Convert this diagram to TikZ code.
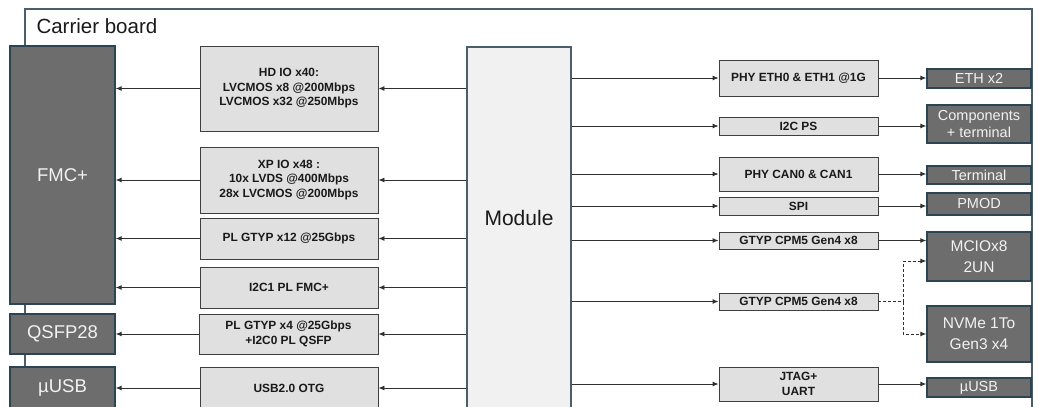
\documentclass[tikz,border=0pt]{standalone}
\usepackage{fontspec}
\setmainfont{Liberation Sans}
\usepackage{tikz}
\usetikzlibrary{arrows.meta,calc}
\definecolor{boardline}{HTML}{4A5E6B}
\definecolor{portbg}{HTML}{6D6D6D}
\definecolor{portline}{HTML}{2D4452}
\definecolor{porttext}{HTML}{F2F2F2}
\definecolor{ifbg}{HTML}{E0E0E0}
\definecolor{ifline}{HTML}{3F3F3F}
\definecolor{modbg}{HTML}{F1F1F1}
\definecolor{wireline}{HTML}{303030}
\tikzset{
  portbox/.style={draw=portline, fill=portbg, line width=1.3pt, text=porttext, align=center, inner sep=0pt, font=\fontsize{18.5}{20}\selectfont},
  portsmall/.style={portbox, font=\fontsize{14.5}{17}\selectfont},
  ifbox/.style={draw=ifline, fill=ifbg, line width=0.9pt, align=center, inner sep=0pt, text=black!90, font=\bfseries\fontsize{11.9}{14.5}\selectfont},
  modbox/.style={draw=boardline, fill=modbg, line width=2pt, inner sep=0pt},
  boardframe/.style={draw=boardline, line width=1.5pt},
  wire/.style={-{Latex[length=6pt,width=5pt]}, line width=0.9pt, draw=wireline},
  dashwire/.style={wire, dash pattern=on 3pt off 2pt}
}

\begin{document}
\begin{tikzpicture}[x=1pt,y=-1pt]
  \useasboundingbox (0,0) rectangle (1039,407);
  \clip (0,0) rectangle (1039,407);

  % carrier board
  \draw[boardframe] (25,430) |- (1032,9) -- (1032,430);
  \node[anchor=west, font=\fontsize{20.5}{22}\selectfont, text=black!90] (boardlbl) at (33,26.5) {Carrier board};

  % connectors, left side
  \node[portbox, minimum width=105, minimum height=258] (fmc)  at (62.5,175) {FMC+};
  \node[portbox, minimum width=105, minimum height=40]  (qsfp) at (62.5,334) {QSFP28};
  \node[portbox, minimum width=105, minimum height=41]  (usbl) at (62.5,387.5) {µUSB};

  % interfaces, left side
  \node[ifbox, minimum width=178, minimum height=85] (hdio)   at (289,88.5)  {HD IO x40:\\LVCMOS x8 @200Mbps\\LVCMOS x32 @250Mbps};
  \node[ifbox, minimum width=178, minimum height=66] (xpio)   at (289,180)   {XP IO x48 :\\10x LVDS @400Mbps\\28x LVCMOS @200Mbps};
  \node[ifbox, minimum width=178, minimum height=41] (gtyptw) at (289,238.5) {PL GTYP x12 @25Gbps};
  \node[ifbox, minimum width=178, minimum height=41] (i2cfmc) at (289,287.5) {I2C1 PL FMC+};
  \node[ifbox, minimum width=179, minimum height=40] (gtypfr) at (288.5,334) {PL GTYP x4 @25Gbps\\+I2C0 PL QSFP};
  \node[ifbox, minimum width=178, minimum height=42] (usbotg) at (289,388)   {USB2.0 OTG};

  % module
  \node[modbox, minimum width=104, minimum height=383,
        label={[font=\fontsize{21}{23}\selectfont, text=black!90, yshift=20.5pt]center:Module}] (modl) at (519,238.5) {};

  % interfaces, right side
  \node[ifbox, minimum width=159, minimum height=36] (phyeth) at (798.5,78)   {PHY ETH0 \& ETH1 @1G};
  \node[ifbox, minimum width=159, minimum height=18] (i2cps)  at (798.5,126)  {I2C PS};
  \node[ifbox, minimum width=159, minimum height=34] (phycan) at (798.5,174)  {PHY CAN0 \& CAN1};
  \node[ifbox, minimum width=159, minimum height=18] (spi)    at (798.5,206)  {SPI};
  \node[ifbox, minimum width=159, minimum height=17] (gtypa)  at (798.5,240.5) {GTYP CPM5 Gen4 x8};
  \node[ifbox, minimum width=159, minimum height=17] (gtypb)  at (798.5,301.5) {GTYP CPM5 Gen4 x8};
  \node[ifbox, minimum width=159, minimum height=34] (jtag)   at (798.5,384)  {JTAG+\\UART};

  % connectors, right side
  \node[portsmall, minimum width=104, minimum height=19] (eth)   at (979,78.5)  {ETH x2};
  \node[portsmall, minimum width=104, minimum height=38] (comp)  at (979,124)   {Components\\+ terminal};
  \node[portsmall, minimum width=104, minimum height=18] (term)  at (979,175)   {Terminal};
  \node[portsmall, minimum width=104, minimum height=22] (pmod)  at (979,204)   {PMOD};
  \node[portsmall, minimum width=104, minimum height=49, font=\fontsize{15.5}{21}\selectfont] (mcio)  at (979,256.5) {MCIOx8\\2UN};
  \node[portsmall, minimum width=104, minimum height=56, font=\fontsize{15.5}{21}\selectfont] (nvme)  at (979,334)   {NVMe 1To\\Gen3 x4};
  \node[portsmall, minimum width=104, minimum height=19] (usbr)  at (979,387.5) {µUSB};

  % routing coordinates
  \coordinate (split) at ($(gtypb.east)+(25,0)$);

  % arrows: module to left interfaces
  \draw[wire] (modl.west |- hdio.east)   -- (hdio.east);
  \draw[wire] (modl.west |- xpio.east)   -- (xpio.east);
  \draw[wire] (modl.west |- gtyptw.east) -- (gtyptw.east);
  \draw[wire] (modl.west |- i2cfmc.east) -- (i2cfmc.east);
  \draw[wire] (modl.west |- gtypfr.east) -- (gtypfr.east);
  \draw[wire] (modl.west |- usbotg.east) -- (usbotg.east);

  % arrows: left interfaces to connectors
  \draw[wire] (hdio.west)   -- (hdio.west -| fmc.east);
  \draw[wire] (xpio.west)   -- (xpio.west -| fmc.east);
  \draw[wire] (gtyptw.west) -- (gtyptw.west -| fmc.east);
  \draw[wire] (i2cfmc.west) -- (i2cfmc.west -| fmc.east);
  \draw[wire] (gtypfr.west) -- (gtypfr.west -| qsfp.east);
  \draw[wire] (usbotg.west) -- (usbotg.west -| usbl.east);

  % arrows: module to right interfaces
  \draw[wire] (modl.east |- phyeth.west) -- (phyeth.west);
  \draw[wire] (modl.east |- i2cps.west)  -- (i2cps.west);
  \draw[wire] (modl.east |- phycan.west) -- (phycan.west);
  \draw[wire] (modl.east |- spi.west)    -- (spi.west);
  \draw[wire] (modl.east |- gtypa.west)  -- (gtypa.west);
  \draw[wire] (modl.east |- gtypb.west)  -- (gtypb.west);
  \draw[wire] (modl.east |- jtag.west)   -- (jtag.west);

  % arrows: right interfaces to connectors
  \draw[wire] (phyeth.east) -- (phyeth.east -| eth.west);
  \draw[wire] (i2cps.east)  -- (i2cps.east -| comp.west);
  \draw[wire] (phycan.east) -- (phycan.east -| term.west);
  \draw[wire] (spi.east)    -- (spi.east -| pmod.west);
  \draw[wire] (gtypa.east)  -- (gtypa.east -| mcio.west);
  \draw[wire] (jtag.east)   -- (jtag.east -| usbr.west);

  % optional lanes
  \draw[dashwire, -] (gtypb.east) -- (split);
  \draw[dashwire] (split) |- ([yshift=-4.5pt]mcio.west);
  \draw[dashwire] (split) |- (nvme.west);

\end{tikzpicture}
\end{document}
